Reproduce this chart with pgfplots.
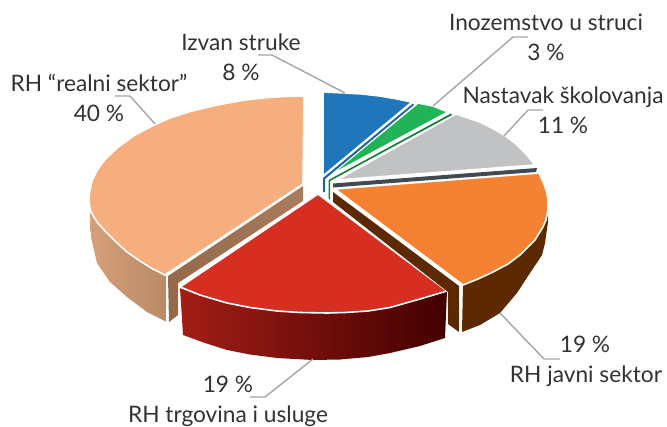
\documentclass[border=0pt]{standalone}
\usepackage{fontspec}
\setmainfont{Lato}
\usepackage{pgfplots}
\pgfplotsset{compat=1.18}
\definecolor{cBlue}{HTML}{1F76BB}
\definecolor{cGreen}{HTML}{22B257}
\definecolor{cGray}{HTML}{C1C2C3}
\definecolor{cDark}{HTML}{414A4F}
\definecolor{cOrange}{HTML}{F58233}
\definecolor{cBrown}{HTML}{5C2900}
\definecolor{cRed}{HTML}{D62E20}
\definecolor{cPeach}{HTML}{F6AE7F}
\definecolor{cLead}{HTML}{A3A5A6}
\definecolor{cText}{HTML}{333232}
\definecolor{pL}{HTML}{D69F79}
\definecolor{pR}{HTML}{B98A67}
\definecolor{iL}{HTML}{94694A}
\definecolor{iR}{HTML}{A87C5C}
\definecolor{rL}{HTML}{A31D16}
\definecolor{rM}{HTML}{7B0606}
\definecolor{rR}{HTML}{430000}
\tikzset{
  top/.style={draw=white,line width=1.6pt,line join=round,fill=#1},
  side/.style={draw=none,fill=#1},
  lead/.style={draw=cLead,line width=1.4pt,line join=round},
  lab/.style={anchor=base,font=\fontsize{22.7}{26}\selectfont,text=cText,inner sep=0pt}
}
\begin{document}
\begin{tikzpicture}
\path[use as bounding box] (0,0) rectangle (667pt,426pt);
\begin{axis}[at={(0,0)},anchor=south west,scale only axis,width=667pt,height=426pt,xmin=0,xmax=667,ymin=0,ymax=426,y dir=reverse,hide axis,clip=false]
% peach outer side
\addplot[draw=none,left color=pL,right color=pR] coordinates {(90,208)(90,215)(91,237)(97,263)(110,282)(127,297)(147,312)(167,322)(167,277)(152,269)(127,252)(105,231)(92,212)} --cycle;
% peach inner side
\addplot[draw=none,left color=iL,right color=iR] coordinates {(168,276)(303,186)(303,201)(178,283)(178,315)(169,322)} --cycle;
\addplot[draw=white,line width=1.5pt] coordinates {(167,277)(167,323)};
% peach top
\addplot[top=cPeach] coordinates {(304,96)(285,96.4)(267,97.5)(245,100)(217,105)(190,111.5)(170,118)(155,124.5)(135,135)(117,148)(105,159.5)(97,170.5)(92,181)(90,190)(89,198)(89.5,205)(91,212)(97,222)(105,231)(115,241)(127,252)(140,261)(152,268.5)(165,275)(303,184)} --cycle;
% red side
\addplot[draw=none,left color=rL,middle color=rM,right color=rR] coordinates {(180,288)(183,335)(205,343)(227,350)(250,354.5)(277,358)(313,360)(340,359.5)(368,357)(390,353)(420,346)(445,338)(447,291)(420,299)(390,307.5)(368,311)(345,312.5)(327,313)(300,312.5)(277,311)(250,307.5)(227,303)(200,295)} --cycle;
% red top
\addplot[top=cRed] coordinates {(318,194)(180,287)(200,295)(227,303)(250,307.5)(277,311)(300,312.5)(327,313)(345,312.5)(368,311)(390,307.5)(420,299)(447,291)} --cycle;
% orange inner side
\addplot[side=cBrown] coordinates {(333,192)(459,286)(459,332)(448,324)(448,292)(333,202)} --cycle;
% orange outer side
\addplot[side=cBrown] coordinates {(548,215)(548,222)(545,243)(542,255)(530,273)(517,293)(500,313)(480,325)(462,332)(463,285)(493,272)(520,255)(543,227)} --cycle;
\addplot[draw=white,line width=1.5pt] coordinates {(461,286)(460,333)};
% orange top
\addplot[top=cOrange] coordinates {(335,189)(539,173)(544,184)(547,193)(548,200)(548,210)(546,220)(543,227)(535,240)(520,255)(508,264)(493,272)(478,279)(463,285)} --cycle;
% dark grey side
\addplot[side=cDark] coordinates {(333,183.5)(537,168)(536,172)(333,187.5)} --cycle;
% grey top
\addplot[top=cGray] coordinates {(337,180)(456,114)(468,118)(480,122)(494,129)(507,137)(516,144)(526,154)(535,165)} --cycle;
% green side
\addplot[side=cGreen!70!black] coordinates {(451,113.5)(452,115)(330,181)(330,199)(328.5,199)(328.5,180)} --cycle;
% green top
\addplot[top=cGreen] coordinates {(329,176)(418,103)(433,106)(448,112)} --cycle;
% blue side
\addplot[side=cBlue!85!black] coordinates {(413,103.5)(414,105)(325,179)(325,192)(323,192)(323,178)} --cycle;
% blue top
\addplot[top=cBlue] coordinates {(323,176)(323,92)(345,93)(362,94)(380,96)(397,99)(412,102)} --cycle;
% leaders
\addplot[lead] coordinates {(258,55)(272,55)(345,93)};
\addplot[lead] coordinates {(528,37)(513,37)(433,106)};
\addplot[lead] coordinates {(543,110)(528,110)(504,136)};
\addplot[lead] coordinates {(115,96)(130,96)(155,124)};
\addplot[lead] coordinates {(313,359)(265,397)(250,397)};
\addplot[lead] coordinates {(500,313)(544,359)(560,359)};
% labels
\node[lab] at (axis cs:241,50) {Izvan struke};
\node[lab] at (axis cs:241,80) {8 \%};
\node[lab] at (axis cs:99,91) {RH “realni sektor”};
\node[lab] at (axis cs:99,121) {40 \%};
\node[lab] at (axis cs:546,30) {Inozemstvo u struci};
\node[lab] at (axis cs:546,60) {3 \%};
\node[lab] at (axis cs:563,103) {Nastavak školovanja};
\node[lab] at (axis cs:563,133) {11 \%};
\node[lab] at (axis cs:585,352) {19 \%};
\node[lab] at (axis cs:586,382) {RH javni sektor};
\node[lab] at (axis cs:228,392) {19 \%};
\node[lab] at (axis cs:228,422) {RH trgovina i usluge};
\end{axis}
\end{tikzpicture}
\end{document}
